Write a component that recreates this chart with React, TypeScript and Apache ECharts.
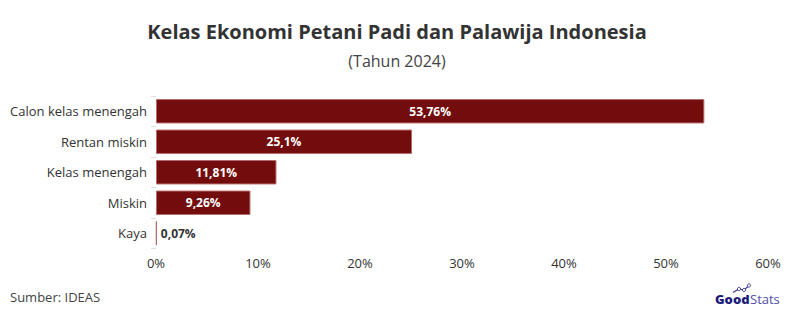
import React, { useEffect, useRef } from "react";
import * as echarts from "echarts";

const categories = ["Calon kelas menengah", "Rentan miskin", "Kelas menengah", "Miskin", "Kaya"];
const values = [53.76, 25.1, 11.81, 9.26, 0.07];
const valueLabels = ["53,76%", "25,1%", "11,81%", "9,26%", "0,07%"];
const xTicks = [0, 10, 20, 30, 40, 50, 60];

export default function App() {
  const ref = useRef<HTMLDivElement>(null);
  useEffect(() => {
    if (!ref.current) return;
    const chart = echarts.init(ref.current, null, { renderer: "svg" });
    const font = "'Source Sans Pro', 'Open Sans', 'Noto Sans', sans-serif";
    chart.setOption({
      animation: false,
      backgroundColor: "#ffffff",
      title: {
        text: "Kelas Ekonomi Petani Padi dan Palawija Indonesia",
        subtext: "(Tahun 2024)",
        left: "center",
        top: 16,
        itemGap: 12,
        textStyle: { fontFamily: font, fontSize: 20, fontWeight: "bold", color: "#333333" },
        subtextStyle: { fontFamily: font, fontSize: 16, color: "#444444" },
      },
      grid: { left: 156, right: 26, top: 96, bottom: 70.5, containLabel: false },
      xAxis: {
        type: "value",
        min: xTicks[0],
        max: xTicks[xTicks.length - 1],
        interval: 10,
        axisLine: { show: false },
        axisTick: { show: false },
        splitLine: { show: false },
        axisLabel: {
          formatter: (v: number) => v + "%",
          fontFamily: font,
          fontSize: 13,
          color: "#333333",
          margin: 8,
        },
      },
      yAxis: {
        type: "category",
        data: categories,
        inverse: true,
        axisLine: { show: false },
        axisTick: { show: true, length: 5, lineStyle: { color: "#dddddd" } },
        axisLabel: { fontFamily: font, fontSize: 13, color: "#333333", margin: 9 },
      },
      series: [
        {
          type: "bar",
          data: values.map((v) => ({
            value: v,
            label:
              v < 2
                ? { position: "right", color: "#333333", distance: 4 }
                : { position: "inside", color: "#ffffff" },
          })),
          barCategoryGap: "20%",
          itemStyle: { color: "#730c0c", borderColor: "#b56a6a", borderWidth: 1 },
          label: {
            show: true,
            fontFamily: font,
            fontSize: 12,
            fontWeight: "bold",
            formatter: (p: any) => valueLabels[p.dataIndex],
          },
        },
      ],
      graphic: [
        {
          type: "text",
          left: 10,
          top: 290,
          style: { text: "Sumber: IDEAS", fontFamily: font, fontSize: 13, fill: "#444444" },
        },
        {
          type: "group",
          left: 715,
          top: 283,
          children: [
            {
              type: "polyline",
              shape: { points: [[18, 10], [24, 6.5], [29, 7.5], [34, 3]] },
              style: { stroke: "#3b3b9a", lineWidth: 1.2, fill: null },
            },
            { type: "circle", shape: { cx: 24, cy: 6.5, r: 1.6 }, style: { stroke: "#3b3b9a", fill: "#fff", lineWidth: 1 } },
            { type: "circle", shape: { cx: 29, cy: 7.5, r: 1.6 }, style: { stroke: "#3b3b9a", fill: "#fff", lineWidth: 1 } },
            { type: "circle", shape: { cx: 34, cy: 3, r: 1.6 }, style: { stroke: "#3b3b9a", fill: "#fff", lineWidth: 1 } },
            {
              type: "text",
              x: 0,
              y: 10,
              style: { text: "Good", fontFamily: font, fontSize: 13, fontWeight: 900, fill: "#1b1b7a" },
            },
            {
              type: "text",
              x: 35,
              y: 10,
              style: { text: "Stats", fontFamily: font, fontSize: 13, fontWeight: "normal", fill: "#4f4fa8" },
            },
          ],
        },
      ],
    });
    return () => chart.dispose();
  }, []);
  return <div ref={ref} style={{ width: 794, height: 319, margin: -8 }} />;
}
